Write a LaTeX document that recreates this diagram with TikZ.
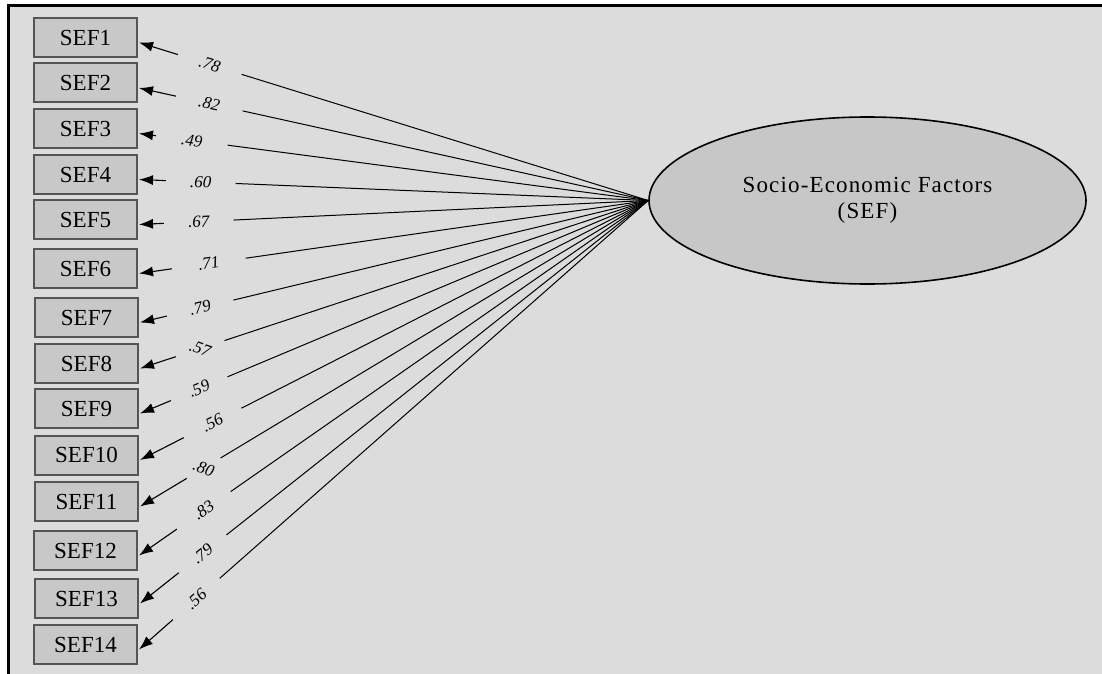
\documentclass[tikz,border=0pt]{standalone}
\usepackage{fontspec}
\setmainfont{Liberation Serif}
\newfontfamily\latfont{Liberation Serif}[LetterSpace=5]
\usetikzlibrary{calc,shapes.geometric,arrows.meta}

\definecolor{bggray}{HTML}{DCDCDC}
\definecolor{boxgray}{HTML}{C8C8C8}
\definecolor{edgegray}{HTML}{555555}
\definecolor{latgray}{HTML}{C7C7C7}

\tikzset{
  obsbox/.style={draw=edgegray, fill=boxgray, line width=1pt, inner sep=0pt,
    minimum width=51.5pt, minimum height=19.5pt, font=\fontsize{11.5}{13}\selectfont},
  latbox/.style={ellipse, draw, fill=latgray, line width=0.8pt, inner sep=0pt,
    minimum width=218.5pt, minimum height=83.5pt, align=center,
    font=\latfont\fontsize{11.5}{13}\selectfont},
  ldarr/.style={-{Latex[length=7pt,width=5pt]}, line width=0.55pt},
  ldline/.style={line width=0.5pt},
  ldval/.style={sloped, inner sep=0pt, font=\itshape\fontsize{8.5}{9}\selectfont}
}

% box, tail x, resume x, value, extra turn
\newcommand{\loadarrow}[5]{%
  \coordinate (tip) at ($(#1.east)+(1,5)$);
  \pgfmathsetmacro{\pa}{(#2-138)/511}
  \pgfmathsetmacro{\pb}{(#3-138)/511}
  \coordinate (tl) at ($(tip)!\pa!(lat.west)$);
  \coordinate (rs) at ($(tip)!\pb!(lat.west)$);
  \draw[ldarr] (tl) -- (tip);
  \draw[ldline] (rs) -- (lat.west);
  \path (tl) -- node[ldval,rotate=#5] {#4} (rs);
}

\begin{document}
\begin{tikzpicture}[x=0.5pt,y=-0.5pt]
  \useasboundingbox (0,0) rectangle (1102,674);
  \fill[bggray] (9,6) rectangle (1102,674);
  \draw[line width=1.3pt] (8.5,674) -- (8.5,5.5) -- (1102,5.5);

  \node[latbox] (lat) at (867.5,200.5) {Socio-Economic Factors\\(SEF)};

  \node[obsbox] (sef1)  at (85.5,37.5)  {SEF1};
  \node[obsbox] (sef2)  at (85.5,83)    {SEF2};
  \node[obsbox] (sef3)  at (85.5,128.5) {SEF3};
  \node[obsbox] (sef4)  at (85.5,174.5) {SEF4};
  \node[obsbox] (sef5)  at (85.5,219.5) {SEF5};
  \node[obsbox] (sef6)  at (85.5,268.5) {SEF6};
  \node[obsbox] (sef7)  at (86.5,317.5) {SEF7};
  \node[obsbox] (sef8)  at (86.5,363.5) {SEF8};
  \node[obsbox] (sef9)  at (86.5,408.5) {SEF9};
  \node[obsbox] (sef10) at (86.5,455)   {SEF10};
  \node[obsbox] (sef11) at (86.5,501.5) {SEF11};
  \node[obsbox] (sef12) at (85.5,550.5) {SEF12};
  \node[obsbox] (sef13) at (86.5,598.5) {SEF13};
  \node[obsbox] (sef14) at (85.5,644.5) {SEF14};

  \loadarrow{sef1}{177}{241}{.78}{0}
  \loadarrow{sef2}{175}{242}{.82}{0}
  \loadarrow{sef3}{155}{227}{.49}{0}
  \loadarrow{sef4}{165}{235}{.60}{0}
  \loadarrow{sef5}{163}{233}{.67}{0}
  \loadarrow{sef6}{171}{245}{.71}{0}
  \loadarrow{sef7}{165}{232}{.79}{0}
  \loadarrow{sef8}{174}{223}{.57}{-38}
  \loadarrow{sef9}{169}{226}{.59}{0}
  \loadarrow{sef10}{182}{240}{.56}{0}
  \loadarrow{sef11}{185}{219}{.80}{-50}
  \loadarrow{sef12}{176}{230}{.83}{0}
  \loadarrow{sef13}{177}{225}{.79}{0}
  \loadarrow{sef14}{172}{219}{.56}{0}
\end{tikzpicture}
\end{document}
